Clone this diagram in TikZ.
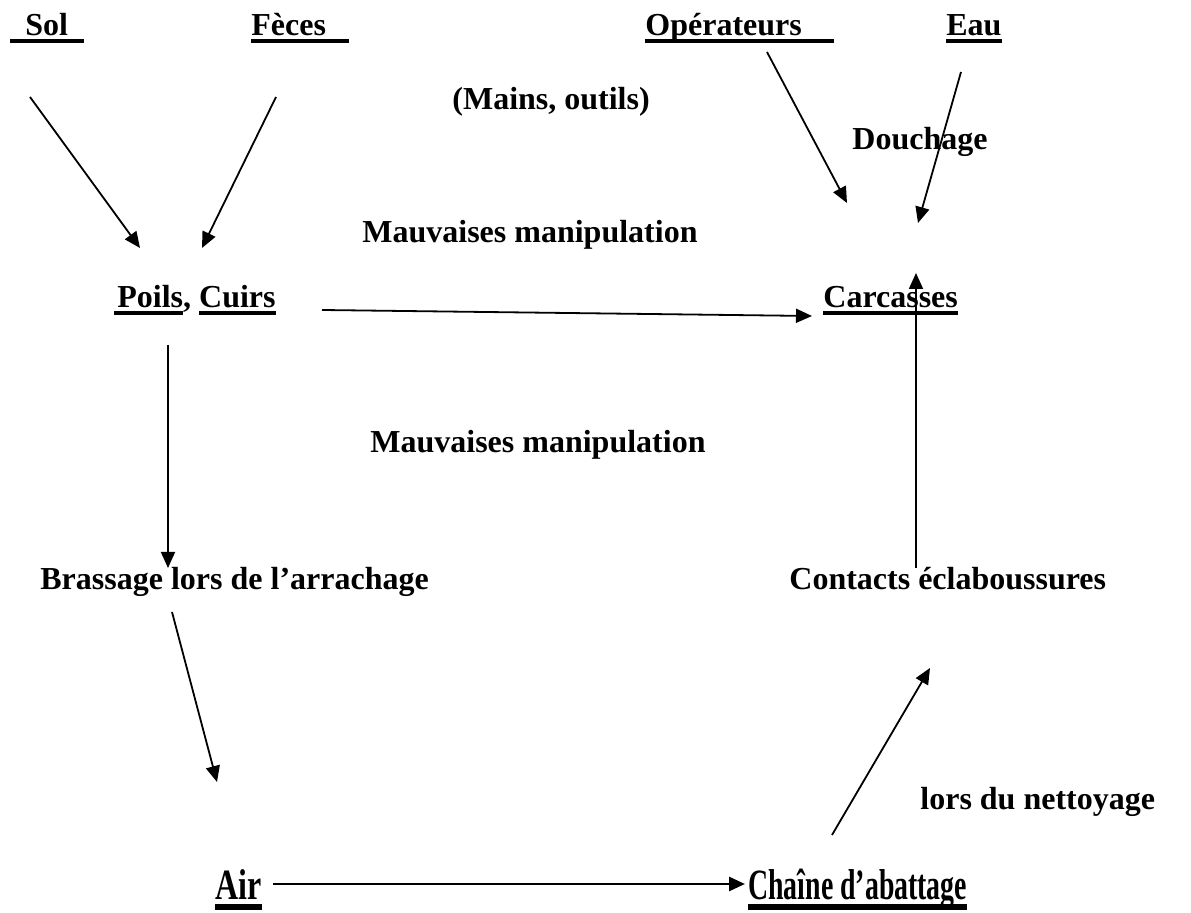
\documentclass[tikz,border=0pt]{standalone}
\usepackage{fontspec}
\setmainfont{Liberation Serif}
\usetikzlibrary{arrows.meta}
\newcommand\myul[1]{\setbox0\hbox{#1}\rlap{\rule[-3.6pt]{\wd0}{2pt}}\box0}
\begin{document}
\begin{tikzpicture}[x=0.5pt,y=-0.5pt,
  lbl/.style={anchor=base west, inner sep=0pt, font=\bfseries\fontsize{16}{19}\selectfont},
  arr/.style={-{Triangle[length=8pt,width=7pt]}, line width=0.9pt},
  arrthick/.style={-{Triangle[length=8pt,width=7pt]}, line width=1.4pt}]
\fill[white] (0,0) rectangle (1191,913);
\useasboundingbox (0,0) rectangle (1191,913);
% labels
\node[lbl] (sol) at (10,36) {\myul{\hspace{7.5pt}Sol\hspace{8pt}}};
\node[lbl] (feces) at (251,36) {\myul{Fèces\hspace{11.5pt}}};
\node[lbl] (oper) at (645,36) {\myul{Opérateurs\hspace{16pt}}};
\node[lbl] (eau) at (946,36) {\myul{Eau}};
\node[lbl] (mains) at (452,110) {(Mains, outils)};
\node[lbl] (douch) at (852,150) {Douchage};
\node[lbl] (mauv1) at (362,243) {Mauvaises manipulation};
\node[lbl] (poils) at (114,308) {\myul{\hspace{1.5pt}Poils}, \myul{Cuirs}};
\node[lbl] (carc) at (823,308) {\myul{Carcasses}};
\node[lbl] (mauv2) at (370,453) {Mauvaises manipulation};
\node[lbl] (brass) at (40,590) {Brassage lors de l’arrachage};
\node[lbl] (contact) at (789,590) {Contacts éclaboussures};
\node[lbl] (nett) at (920,810) {lors du nettoyage};
\node[lbl, yscale=1.35] (air) at (215,900) {\myul{Air}};
\node[lbl, xscale=0.87, yscale=1.35] (chaine) at (748,900) {\myul{Chaîne d’abattage}};
% connector end points
\coordinate (solS) at (30,97);      \coordinate (poilsA) at (140,248);
\coordinate (fecS) at (276,97);     \coordinate (poilsB) at (202,248);
\coordinate (opS) at (767,52);      \coordinate (carcA) at (847,203);
\coordinate (eauS) at (961,72);     \coordinate (carcB) at (918,223);
\coordinate (poilsR) at (322,310);  \coordinate (carcL) at (812,316);
\coordinate (poilsD) at (168,345);  \coordinate (brassT) at (168,568);
\coordinate (contT) at (916,568);   \coordinate (carcD) at (916,273);
\coordinate (brassD) at (172,612);  \coordinate (airT) at (217,782);
\coordinate (airR) at (273,884);    \coordinate (chaineL) at (745,884);
\coordinate (chaineT) at (832,835); \coordinate (contD) at (930,668);
% connectors
\draw[arr] (solS) -- (poilsA);
\draw[arr] (fecS) -- (poilsB);
\draw[arr] (opS) -- (carcA);
\draw[arr] (eauS) -- (carcB);
\draw[arr] (poilsR) -- (carcL);
\draw[arr] (poilsD) -- (brassT);
\draw[arr] (contT) -- (carcD);
\draw[arr] (brassD) -- (airT);
\draw[arrthick] (airR) -- (chaineL);
\draw[arr] (chaineT) -- (contD);
\end{tikzpicture}
\end{document}
